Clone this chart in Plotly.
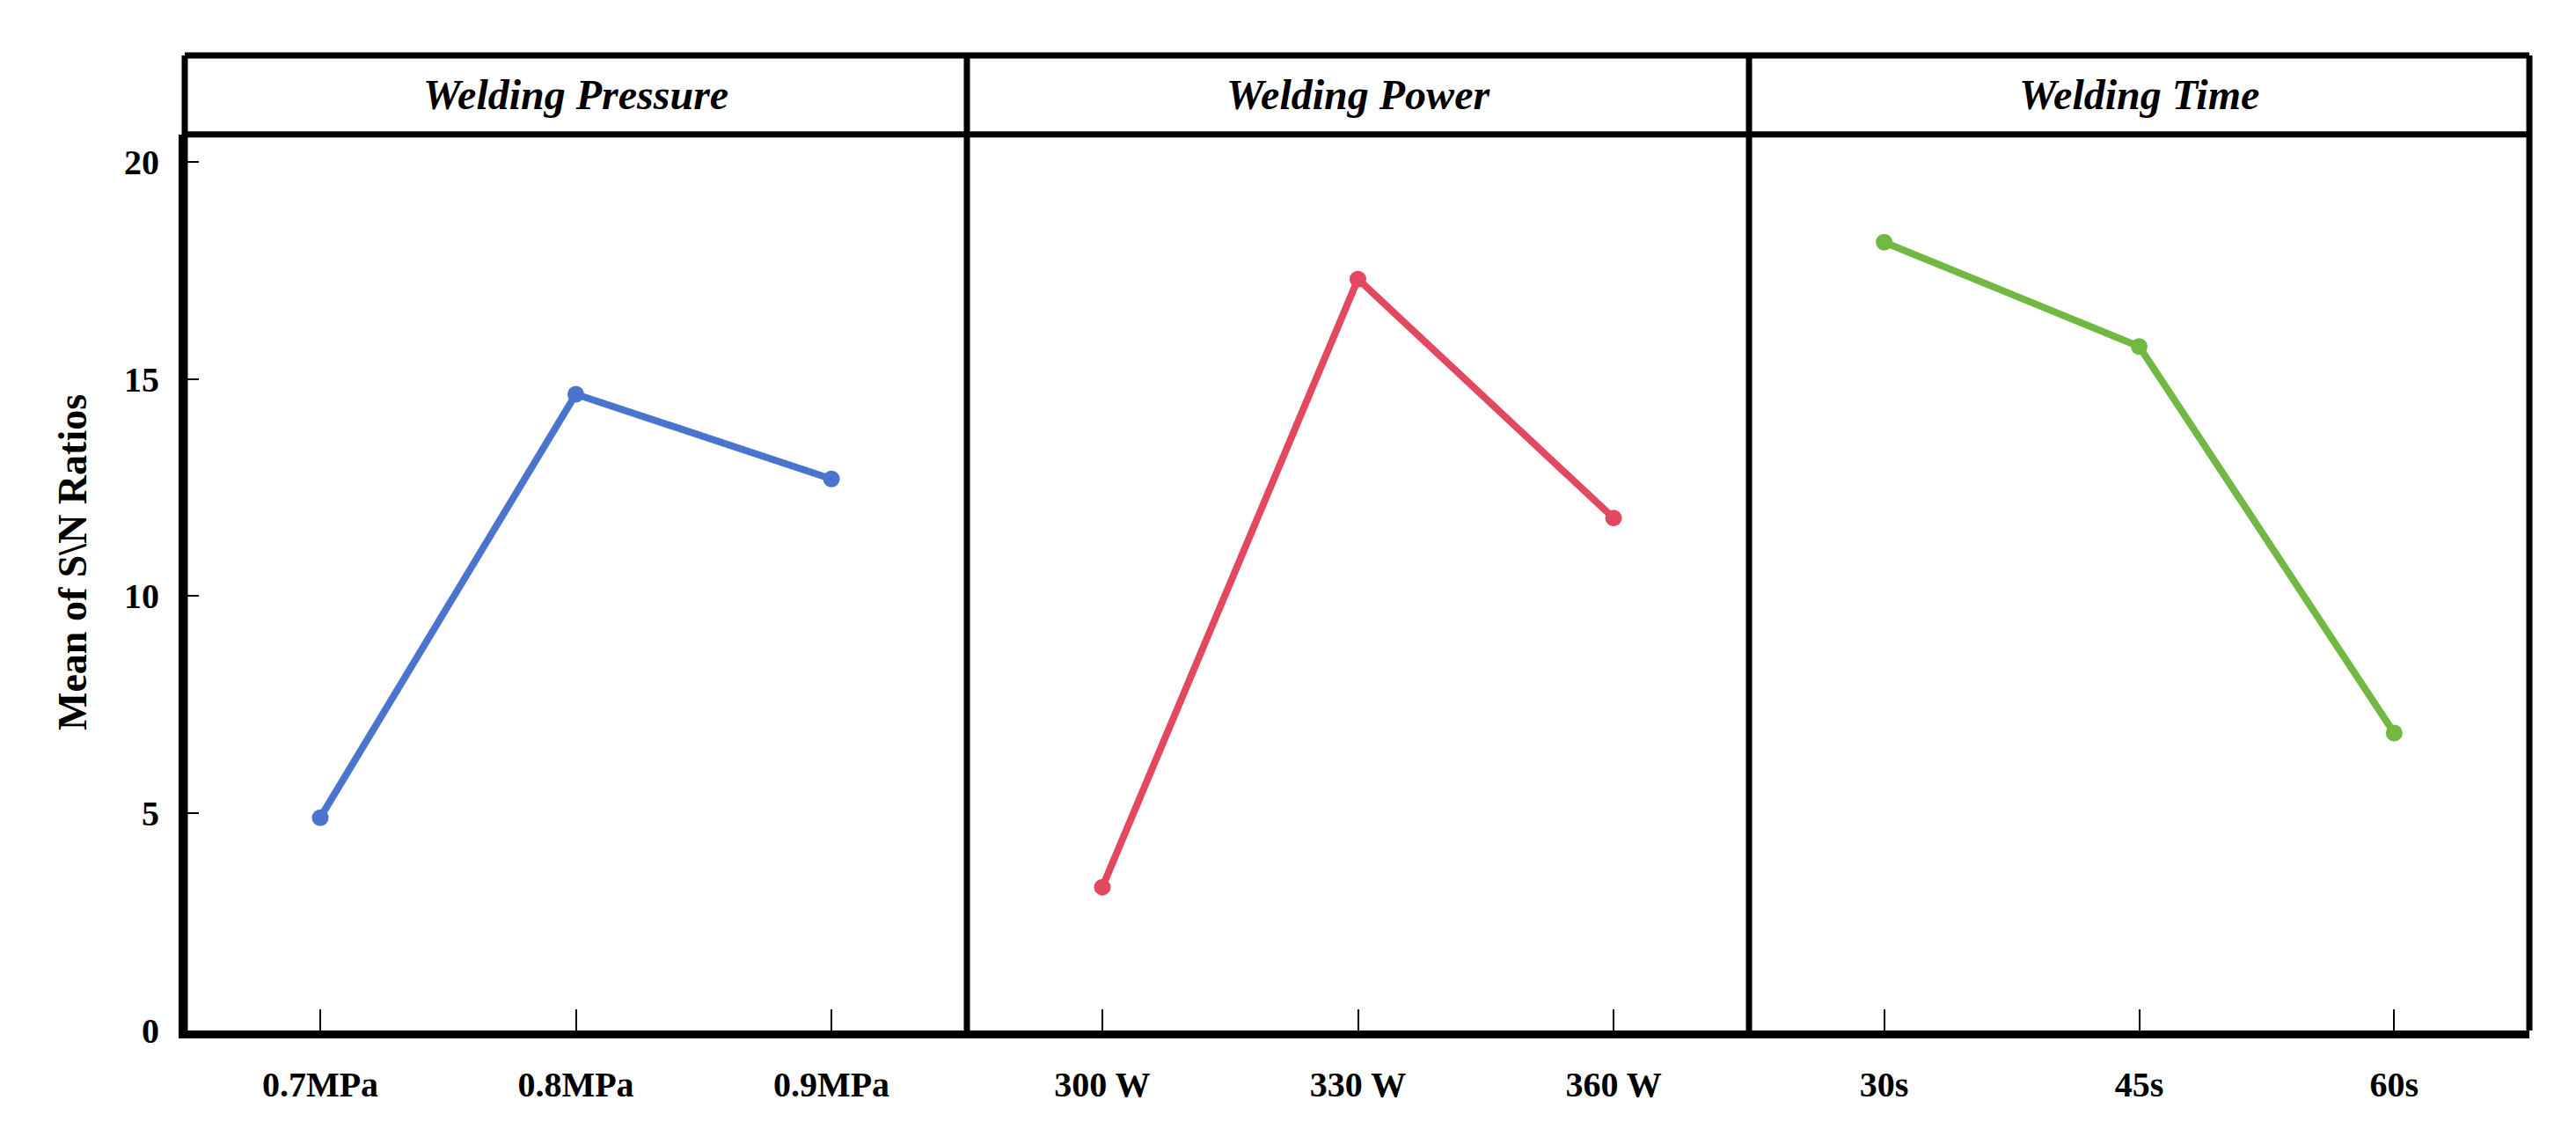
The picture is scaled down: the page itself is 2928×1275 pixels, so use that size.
import plotly.graph_objects as go

# ---- data ----
pressure_labels = ["0.7MPa", "0.8MPa", "0.9MPa"]
pressure_values = [4.9, 14.65, 12.7]
power_labels = ["300 W", "330 W", "360 W"]
power_values = [3.3, 17.3, 11.8]
time_labels = ["30s", "45s", "60s"]
time_values = [18.15, 15.75, 6.85]
panel_titles = ["Welding Pressure", "Welding Power", "Welding Time"]
y_ticks = [0, 5, 10, 15, 20]
y_title = "Mean of S\\N Ratios"

colors = ["#4A74CE", "#E2485F", "#72B943"]
FONT = "Liberation Serif, Times New Roman, serif"

BODY = 8  # default page body margin
W, H = 2928 - 2 * BODY, 1275 - 2 * BODY
ml, mr, mt, mb = 210 - BODY, 53 - BODY, 63 - BODY, 102 - BODY
plot_w = W - ml - mr
plot_h = H - mt - mb
ytop = (1173 - 153) / plot_h

d1 = (1099 - 210) / plot_w
d2 = (1988 - 210) / plot_w
domains = [[0, d1], [d1, d2], [d2, 1]]

fig = go.Figure()
series = [(pressure_labels, pressure_values), (power_labels, power_values), (time_labels, time_values)]
for i, (labs, vals) in enumerate(series):
    xa = "x" if i == 0 else f"x{i+1}"
    fig.add_trace(go.Scatter(
        x=labs, y=vals, mode="lines+markers", xaxis=xa, yaxis="y",
        line=dict(color=colors[i], width=8),
        marker=dict(color=colors[i], size=19),
        showlegend=False, hoverinfo="x+y",
    ))

axis_common = dict(
    showgrid=False, zeroline=False, showline=True, linecolor="black", linewidth=9,
    ticks="inside", ticklen=24, tickwidth=2, tickcolor="black",
    tickfont=dict(family=FONT, size=40, color="black", weight="bold"),
    range=[-0.53, 2.53], type="category", fixedrange=True,
    ticklabelstandoff=18,
)
layout = dict(
    width=W, height=H,
    margin=dict(l=ml, r=mr, t=mt, b=mb, pad=0),
    paper_bgcolor="white", plot_bgcolor="white",
    yaxis=dict(
        domain=[0, ytop], range=[0, 20.63], tickvals=y_ticks,
        showgrid=False, zeroline=False, showline=True, linecolor="black", linewidth=7,
        ticks="inside", ticklen=16, tickwidth=2, tickcolor="black",
        tickfont=dict(family=FONT, size=40, color="black", weight="bold"),
        ticklabelstandoff=14, fixedrange=True,
    ),
)
for i in range(3):
    key = "xaxis" if i == 0 else f"xaxis{i+1}"
    layout[key] = dict(axis_common, domain=domains[i], anchor="y")
fig.update_layout(**layout)

shapes = []
lw = 7
shapes.append(dict(type="line", xref="paper", yref="paper", x0=0, x1=1, y0=1, y1=1,
                   line=dict(color="black", width=lw)))
shapes.append(dict(type="line", xref="paper", yref="paper", x0=0, x1=1, y0=ytop, y1=ytop,
                   line=dict(color="black", width=lw)))
shapes.append(dict(type="line", xref="paper", yref="paper", x0=0, x1=0, y0=0, y1=1,
                   line=dict(color="black", width=lw)))
shapes.append(dict(type="line", xref="paper", yref="paper", x0=1, x1=1, y0=0, y1=1,
                   line=dict(color="black", width=lw)))
for d in (d1, d2):
    shapes.append(dict(type="line", xref="paper", yref="paper", x0=d, x1=d, y0=0, y1=1,
                       line=dict(color="black", width=lw)))
fig.update_layout(shapes=shapes)

annotations = []
for i, t in enumerate(panel_titles):
    cx = (domains[i][0] + domains[i][1]) / 2
    annotations.append(dict(
        text=f"<b><i>{t}</i></b>", xref="paper", yref="paper", x=cx, y=(1 + ytop) / 2,
        xanchor="center", yanchor="middle", showarrow=False,
        font=dict(family=FONT, size=48, color="black"),
    ))
annotations.append(dict(
    text=f"<b>{y_title}</b>", xref="paper", yref="paper",
    x=(83 - 210) / plot_w, y=(1173 - 640) / plot_h,
    xanchor="center", yanchor="middle", showarrow=False, textangle=-90,
    font=dict(family=FONT, size=46, color="black"),
))
fig.update_layout(annotations=annotations)

fig.write_html("out.html")
